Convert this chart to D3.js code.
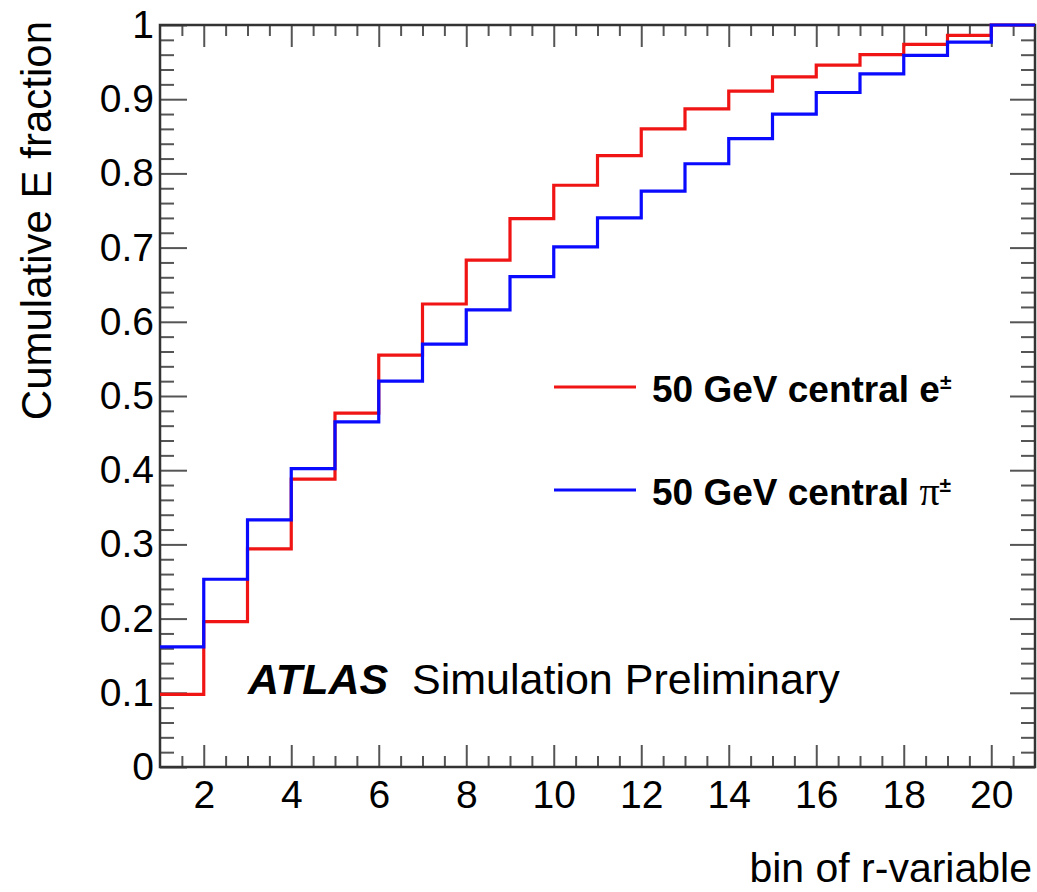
<!DOCTYPE html>
<html>
<head>
<meta charset="utf-8">
<script src="https://cdn.jsdelivr.net/npm/d3@7"></script>
<style>
  body { margin: 0; background: #fff; }
  text { font-family: "Liberation Sans", Arial, Helvetica, sans-serif; }
</style>
</head>
<body>
<script>
// bin edges of the r-variable histogram (20 bins from 1 to 21)
const binEdges = d3.range(1, 22);
// cumulative energy fraction per bin
const electronFrac = [0.098, 0.196, 0.294, 0.388, 0.477, 0.555, 0.624, 0.683, 0.739, 0.784,
                      0.824, 0.860, 0.887, 0.911, 0.930, 0.946, 0.960, 0.974, 0.986, 1.0];
const pionFrac = [0.162, 0.253, 0.333, 0.402, 0.465, 0.520, 0.570, 0.616, 0.661, 0.701,
                  0.740, 0.776, 0.813, 0.847, 0.880, 0.909, 0.934, 0.959, 0.977, 1.0];
const xMajorTicks = [2, 4, 6, 8, 10, 12, 14, 16, 18, 20];
const xMinorTicks = d3.range(1.5, 21, 0.5).filter(v => v % 2 !== 0);
const yMajorTicks = [0, 0.1, 0.2, 0.3, 0.4, 0.5, 0.6, 0.7, 0.8, 0.9, 1];
const yMinorTicks = d3.range(1, 50).map(i => i * 0.02).filter(v => Math.round(v * 100) % 10 !== 0);
const seriesNames = ["50 GeV central e", "50 GeV central "];
const seriesColors = ["#f01414", "#0a0aff"];

const W = 1037, H = 892;
const plotL = 160, plotR = 1035, plotT = 25, plotB = 767;

const svg = d3.select("body").append("svg").attr("width", W).attr("height", H);

const x = d3.scaleLinear().domain([1, 21]).range([plotL, plotR]);
const y = d3.scaleLinear().domain([0, 1]).range([plotB, plotT]);

const tickColor = "#555";

function styleAxis(g) {
  g.select(".domain").remove();
  g.selectAll(".tick line").attr("stroke", tickColor).attr("stroke-width", 2);
  g.attr("font-family", null).attr("font-size", 39);
  g.selectAll("text").attr("fill", "#000");
}

// minor ticks first
svg.append("g").attr("transform", "translate(0," + plotB + ")")
  .call(d3.axisBottom(x).tickValues(xMinorTicks).tickSize(-11).tickFormat(""))
  .call(styleAxis);
svg.append("g").attr("transform", "translate(0," + plotT + ")")
  .call(d3.axisTop(x).tickValues(xMinorTicks).tickSize(-11).tickFormat(""))
  .call(styleAxis);
svg.append("g").attr("transform", "translate(" + plotL + ",0)")
  .call(d3.axisLeft(y).tickValues(yMinorTicks).tickSize(-14).tickFormat(""))
  .call(styleAxis);
svg.append("g").attr("transform", "translate(" + plotR + ",0)")
  .call(d3.axisRight(y).tickValues(yMinorTicks).tickSize(-14).tickFormat(""))
  .call(styleAxis);

// major ticks with labels
svg.append("g").attr("transform", "translate(0," + plotB + ")")
  .call(d3.axisBottom(x).tickValues(xMajorTicks).tickSize(-22).tickPadding(13))
  .call(styleAxis);
svg.append("g").attr("transform", "translate(0," + plotT + ")")
  .call(d3.axisTop(x).tickValues(xMajorTicks).tickSize(-22).tickFormat(""))
  .call(styleAxis);
svg.append("g").attr("transform", "translate(" + plotL + ",0)")
  .call(d3.axisLeft(y).tickValues(yMajorTicks).tickSize(-27).tickPadding(6)
    .tickFormat(d => (d === 0 || d === 1) ? String(d) : d.toFixed(1)))
  .call(styleAxis);
svg.append("g").attr("transform", "translate(" + plotR + ",0)")
  .call(d3.axisRight(y).tickValues(yMajorTicks).tickSize(-25).tickFormat(""))
  .call(styleAxis);

// frame
svg.append("rect")
  .attr("x", plotL).attr("y", plotT)
  .attr("width", plotR - plotL).attr("height", plotB - plotT)
  .attr("fill", "none").attr("stroke", "#333").attr("stroke-width", 2.5);

// histograms as step lines
const step = d3.line().x(d => x(d[0])).y(d => y(d[1])).curve(d3.curveStepAfter);
[electronFrac, pionFrac].forEach((vals, k) => {
  const pts = vals.map((v, i) => [binEdges[i], v]);
  pts.push([binEdges[vals.length], vals[vals.length - 1]]);
  svg.append("path").datum(pts)
    .attr("d", step)
    .attr("fill", "none")
    .attr("stroke", seriesColors[k])
    .attr("stroke-width", 3.2);
});

// axis titles
svg.append("text")
  .attr("x", 1032).attr("y", 882)
  .attr("text-anchor", "end").attr("font-size", 41)
  .text("bin of r-variable");
svg.append("text")
  .attr("transform", "translate(51," + (plotT - 4) + ") rotate(-90)")
  .attr("text-anchor", "end").attr("font-size", 42)
  .text("Cumulative E fraction");

// legend
const legendY = [387, 490];
seriesNames.forEach((name, k) => {
  svg.append("line")
    .attr("x1", 554).attr("x2", 636)
    .attr("y1", legendY[k]).attr("y2", legendY[k])
    .attr("stroke", seriesColors[k]).attr("stroke-width", 3);
  const t = svg.append("text")
    .attr("x", 652).attr("y", legendY[k] + 15)
    .attr("font-size", 37).attr("font-weight", "bold");
  t.append("tspan").text(name);
  if (k === 1) {
    t.append("tspan")
      .style("font-family", "'Liberation Serif', 'Times New Roman', serif")
      .attr("font-weight", "normal").attr("font-size", 40)
      .text("\u03c0");
  }
  t.append("tspan").attr("dy", -13).attr("font-size", 21).text("\u00b1");
});

// ATLAS label
const atlas = svg.append("text").attr("x", 248).attr("y", 694).attr("font-size", 43);
atlas.append("tspan").attr("font-weight", "bold").attr("font-style", "italic").text("ATLAS");
atlas.append("tspan").attr("x", 412).text("Simulation Preliminary");
</script>
</body>
</html>
